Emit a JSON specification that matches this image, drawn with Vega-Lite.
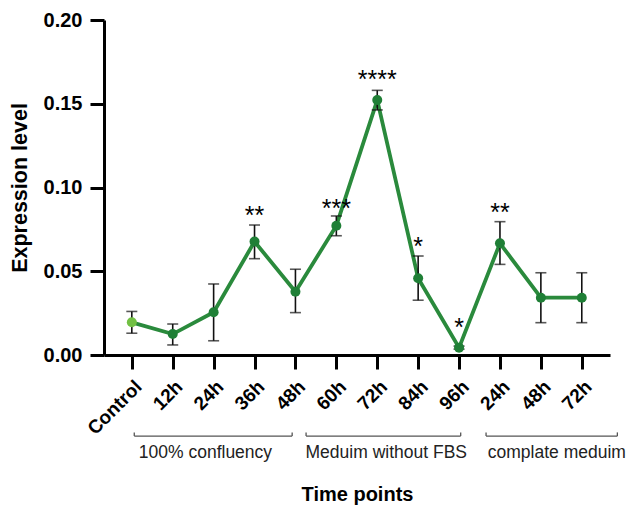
{
  "$schema": "https://vega.github.io/schema/vega-lite/v6.json",
  "width": 506,
  "height": 335,
  "autosize": {"type": "none"},
  "padding": {"left": 104, "top": 20, "right": 21, "bottom": 151},
  "background": "white",
  "config": {"view": {"stroke": null}, "font": "Liberation Sans"},
  "datasets": {
    "pts": [
      {"i": 0, "label": "Control", "v": 0.0195, "lo": 0.013, "hi": 0.026, "sig": "", "sy": 0.03, "grp": "control"},
      {"i": 1, "label": "12h", "v": 0.0125, "lo": 0.006, "hi": 0.0185, "sig": "", "sy": 0.03, "grp": "t"},
      {"i": 2, "label": "24h", "v": 0.0255, "lo": 0.0085, "hi": 0.0424, "sig": "", "sy": 0.05, "grp": "t"},
      {"i": 3, "label": "36h", "v": 0.0677, "lo": 0.0575, "hi": 0.0776, "sig": "**", "sy": 0.0861, "grp": "t"},
      {"i": 4, "label": "48h", "v": 0.0378, "lo": 0.0253, "hi": 0.0512, "sig": "", "sy": 0.06, "grp": "t"},
      {"i": 5, "label": "60h", "v": 0.0772, "lo": 0.0712, "hi": 0.083, "sig": "***", "sy": 0.0901, "grp": "t"},
      {"i": 6, "label": "72h", "v": 0.1522, "lo": 0.1463, "hi": 0.158, "sig": "****", "sy": 0.1672, "grp": "t"},
      {"i": 7, "label": "84h", "v": 0.0458, "lo": 0.0327, "hi": 0.0591, "sig": "*", "sy": 0.0676, "grp": "t"},
      {"i": 8, "label": "96h", "v": 0.0044, "lo": 0.0035, "hi": 0.0053, "sig": "*", "sy": 0.0189, "grp": "t"},
      {"i": 9, "label": "24h", "v": 0.0667, "lo": 0.0541, "hi": 0.0796, "sig": "**", "sy": 0.0876, "grp": "t"},
      {"i": 10, "label": "48h", "v": 0.0342, "lo": 0.0193, "hi": 0.0491, "sig": "", "sy": 0.06, "grp": "t"},
      {"i": 11, "label": "72h", "v": 0.0342, "lo": 0.0193, "hi": 0.0491, "sig": "", "sy": 0.06, "grp": "t"}
    ],
    "groups": [
      {"a": 0.06, "b": 3.92, "mid": 1.8, "name": "100% confluency", "yb": -0.0484, "yt": -0.0462, "ty": -0.0585},
      {"a": 4.26, "b": 8.04, "mid": 6.22, "name": "Meduim without FBS", "yb": -0.0484, "yt": -0.0462, "ty": -0.0585},
      {"a": 8.66, "b": 11.87, "mid": 10.39, "name": "complate meduim", "yb": -0.0484, "yt": -0.0462, "ty": -0.0585}
    ]
  },
  "layer": [
    {
      "data": {"name": "pts"},
      "mark": {"type": "line", "color": "#2a8a3c", "strokeWidth": 3.8},
      "encoding": {
        "x": {
          "field": "i", "type": "quantitative",
          "scale": {"domain": [-0.68, 11.69], "nice": false, "zero": false},
          "axis": {
            "values": [0, 1, 2, 3, 4, 5, 6, 7, 8, 9, 10, 11],
            "labelExpr": "['Control','12h','24h','36h','48h','60h','72h','84h','96h','24h','48h','72h'][datum.value]",
            "labelAngle": -45, "labelAlign": "right", "labelBaseline": "top",
            "labelFont": "Liberation Sans", "labelFontWeight": "bold", "labelFontSize": 19, "labelColor": "black",
            "labelPadding": 8, "labelOverlap": false,
            "domainColor": "black", "domainWidth": 3, "tickColor": "black", "tickWidth": 3, "tickSize": 14,
            "grid": false,
            "title": "Time points", "titleFont": "Liberation Sans", "titleFontWeight": "bold", "titleFontSize": 20,
            "titleColor": "black", "titlePadding": 46
          }
        },
        "y": {
          "field": "v", "type": "quantitative",
          "scale": {"domain": [0, 0.2], "nice": false},
          "axis": {
            "values": [0, 0.05, 0.1, 0.15, 0.2], "format": ".2f",
            "labelFont": "Liberation Sans", "labelFontWeight": "bold", "labelFontSize": 20, "labelColor": "black",
            "labelPadding": 8,
            "domainColor": "black", "domainWidth": 3, "tickColor": "black", "tickWidth": 3, "tickSize": 14,
            "grid": false,
            "title": "Expression level", "titleFont": "Liberation Sans", "titleFontWeight": "bold", "titleFontSize": 21.5,
            "titleColor": "black", "titlePadding": 12
          }
        }
      }
    },
    {
      "data": {"name": "pts"},
      "mark": {"type": "rule", "color": "#111111", "strokeWidth": 1.6},
      "encoding": {
        "x": {"field": "i", "type": "quantitative"},
        "y": {"field": "lo", "type": "quantitative"},
        "y2": {"field": "hi"}
      }
    },
    {
      "data": {"name": "pts"},
      "mark": {"type": "tick", "color": "#111111", "orient": "horizontal", "size": 11, "thickness": 1.6},
      "encoding": {
        "x": {"field": "i", "type": "quantitative"},
        "y": {"field": "lo", "type": "quantitative"}
      }
    },
    {
      "data": {"name": "pts"},
      "mark": {"type": "tick", "color": "#111111", "orient": "horizontal", "size": 11, "thickness": 1.6},
      "encoding": {
        "x": {"field": "i", "type": "quantitative"},
        "y": {"field": "hi", "type": "quantitative"}
      }
    },
    {
      "data": {"name": "pts"},
      "mark": {"type": "circle", "size": 100, "opacity": 1},
      "encoding": {
        "x": {"field": "i", "type": "quantitative"},
        "y": {"field": "v", "type": "quantitative"},
        "color": {
          "field": "grp", "type": "nominal",
          "scale": {"domain": ["control", "t"], "range": ["#72c044", "#1f7f36"]},
          "legend": null
        }
      }
    },
    {
      "data": {"name": "pts"},
      "mark": {"type": "text", "font": "Liberation Sans", "fontSize": 25, "color": "black", "baseline": "middle", "dy": 5, "align": "center"},
      "encoding": {
        "x": {"field": "i", "type": "quantitative"},
        "y": {"field": "sy", "type": "quantitative"},
        "text": {"field": "sig"}
      }
    },
    {
      "data": {"name": "groups"},
      "mark": {"type": "rule", "color": "#555555", "strokeWidth": 1.3},
      "encoding": {
        "x": {"field": "a", "type": "quantitative"},
        "x2": {"field": "b"},
        "y": {"field": "yb", "type": "quantitative"}
      }
    },
    {
      "data": {"name": "groups"},
      "mark": {"type": "rule", "color": "#555555", "strokeWidth": 1.3},
      "encoding": {
        "x": {"field": "a", "type": "quantitative"},
        "y": {"field": "yb", "type": "quantitative"},
        "y2": {"field": "yt"}
      }
    },
    {
      "data": {"name": "groups"},
      "mark": {"type": "rule", "color": "#555555", "strokeWidth": 1.3},
      "encoding": {
        "x": {"field": "b", "type": "quantitative"},
        "y": {"field": "yb", "type": "quantitative"},
        "y2": {"field": "yt"}
      }
    },
    {
      "data": {"name": "groups"},
      "mark": {"type": "text", "font": "Liberation Sans", "fontSize": 17.5, "color": "#222222", "baseline": "middle", "align": "center"},
      "encoding": {
        "x": {"field": "mid", "type": "quantitative"},
        "y": {"field": "ty", "type": "quantitative"},
        "text": {"field": "name"}
      }
    }
  ]
}
